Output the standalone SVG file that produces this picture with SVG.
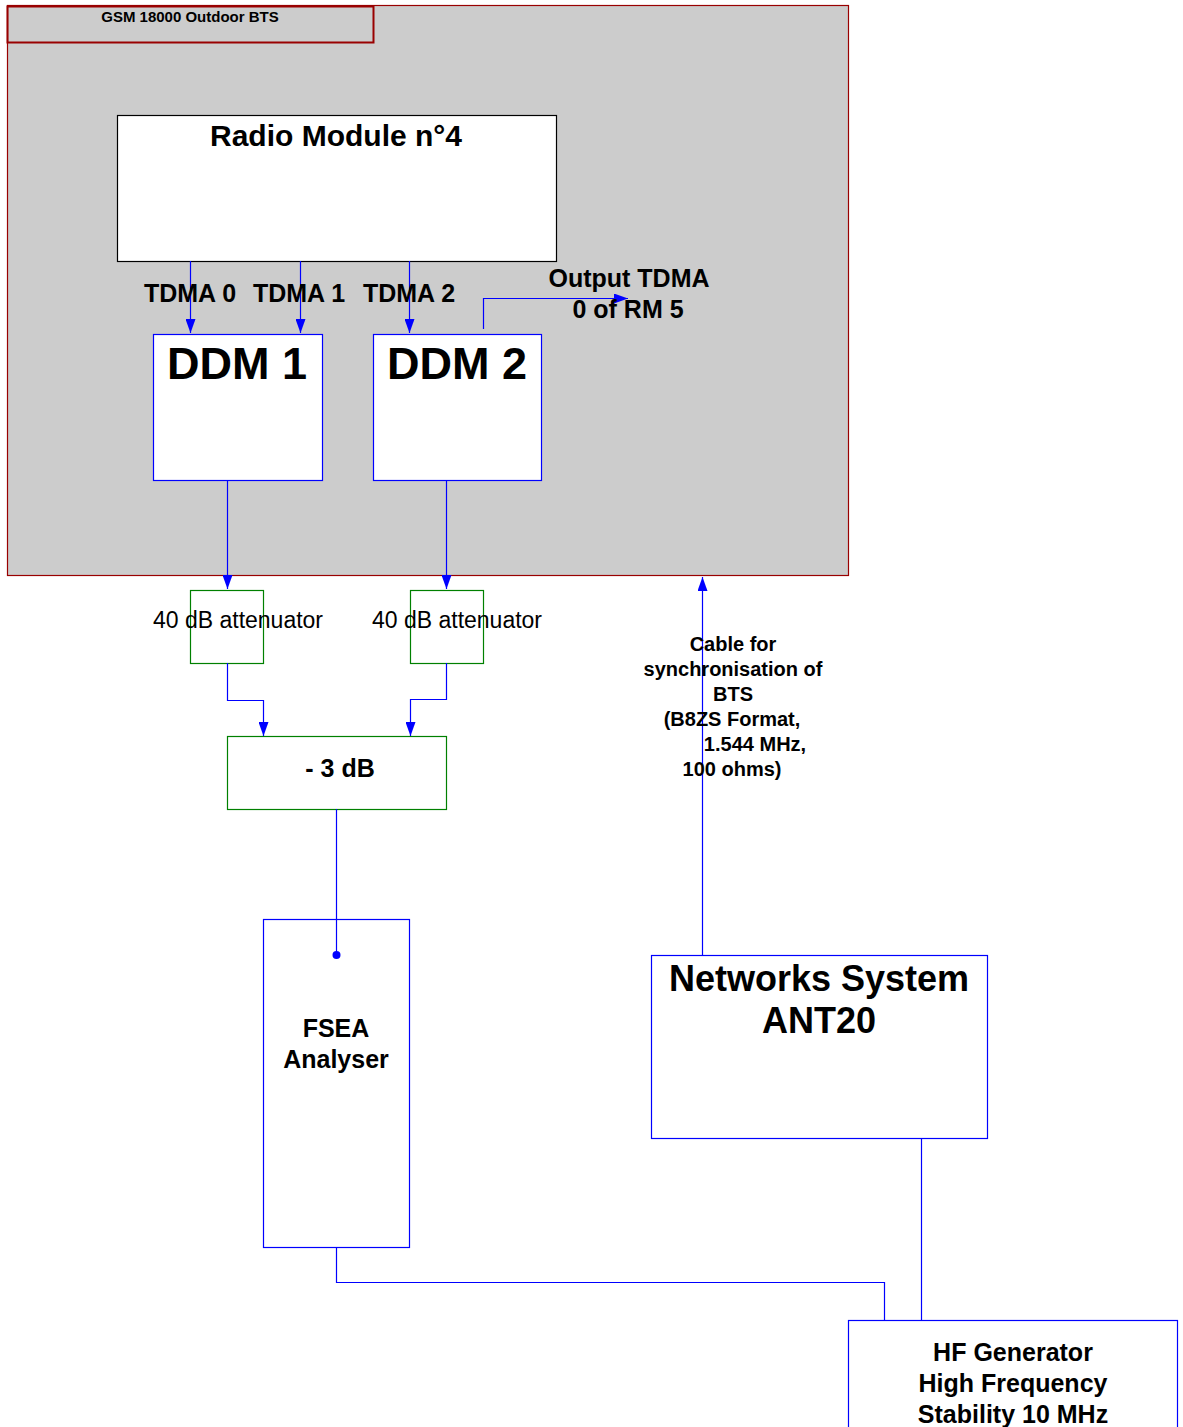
<svg xmlns="http://www.w3.org/2000/svg" width="1183" height="1427" viewBox="0 0 1183 1427">
<style>
text{font-family:"Liberation Sans",Arial,sans-serif;fill:#000;text-anchor:middle}
.b{font-weight:bold}
.blue{fill:#fff;stroke:#0000ff;stroke-width:1.2}
.green{fill:#fff;stroke:#008000;stroke-width:1.2}
.c{fill:none;stroke:#0000ff;stroke-width:1.2}
</style>
<defs>
<marker id="a" viewBox="0 0 14 10" refX="14" refY="5" markerWidth="14" markerHeight="10" markerUnits="userSpaceOnUse" orient="auto" preserveAspectRatio="none">
<path d="M0,0L14,5L0,10z" fill="#0000ff"/>
</marker>
</defs>
<g id="bts">
<rect x="7.5" y="5.5" width="841" height="570" fill="#cccccc" stroke="#990000" stroke-width="1.2"/>
<rect x="7.5" y="6.5" width="366" height="36" fill="none" stroke="#990000" stroke-width="2"/>
<text class="b" x="190" y="22" font-size="15">GSM 18000 Outdoor BTS</text>
</g>
<g id="radio-module">
<rect x="117.5" y="115.5" width="439" height="146" fill="#fff" stroke="#000" stroke-width="1.2"/>
<text class="b" x="336" y="146" font-size="30">Radio Module n°4</text>
</g>
<g id="ddm1">
<rect class="blue" x="153.5" y="334.5" width="169" height="146"/>
<text class="b" x="237" y="379" font-size="45">DDM 1</text>
</g>
<g id="ddm2">
<rect class="blue" x="373.5" y="334.5" width="168" height="146"/>
<text class="b" x="457" y="379" font-size="45">DDM 2</text>
</g>
<g id="att1">
<rect class="green" x="190.5" y="590.5" width="73" height="73"/>
</g>
<g id="att2">
<rect class="green" x="410.5" y="590.5" width="73" height="73"/>
</g>
<g id="combiner">
<rect class="green" x="227.5" y="736.5" width="219" height="73"/>
<text class="b" x="340" y="777" font-size="25">- 3 dB</text>
</g>
<g id="fsea">
<rect class="blue" x="263.5" y="919.5" width="146" height="328"/>
<text class="b" x="336" y="1037" font-size="25">FSEA</text>
<text class="b" x="336" y="1068" font-size="25">Analyser</text>
</g>
<g id="ant20">
<rect class="blue" x="651.5" y="955.5" width="336" height="183"/>
<text class="b" x="819" y="991" font-size="36">Networks System</text>
<text class="b" x="819" y="1033" font-size="36">ANT20</text>
</g>
<g id="hf-generator">
<rect class="blue" x="848.5" y="1320.5" width="329" height="120"/>
<text class="b" x="1013" y="1361" font-size="25">HF Generator</text>
<text class="b" x="1013" y="1392" font-size="25">High Frequency</text>
<text class="b" x="1013" y="1423" font-size="25">Stability 10 MHz</text>
</g>
<g id="connectors">
<path class="c" d="M190.5,261V333" marker-end="url(#a)"/>
<path class="c" d="M300.5,261V333" marker-end="url(#a)"/>
<path class="c" d="M409.5,261V333" marker-end="url(#a)"/>
<path class="c" d="M483.5,329V298.5H628" marker-end="url(#a)"/>
<path class="c" d="M227.5,480V589" marker-end="url(#a)"/>
<path class="c" d="M446.5,480V589" marker-end="url(#a)"/>
<path class="c" d="M227.5,663V700.5H263.5V736" marker-end="url(#a)"/>
<path class="c" d="M446.5,663V699.5H410.5V736" marker-end="url(#a)"/>
<path class="c" d="M336.5,809V955"/>
<circle cx="336.5" cy="955" r="4" fill="#0000ff"/>
<path class="c" d="M702.5,955V577" marker-end="url(#a)"/>
<path class="c" d="M921.5,1138V1320"/>
<path class="c" d="M336.5,1247V1282.5H884.5V1320"/>
</g>
<g id="labels">
<text class="b" x="190" y="302" font-size="25">TDMA 0</text>
<text class="b" x="299" y="302" font-size="25">TDMA 1</text>
<text class="b" x="409" y="302" font-size="25">TDMA 2</text>
<text class="b" x="629" y="287" font-size="25">Output TDMA</text>
<text class="b" x="628" y="318" font-size="25">0 of RM 5</text>
<text x="238" y="628" font-size="23">40 dB attenuator</text>
<text x="457" y="628" font-size="23">40 dB attenuator</text>
<text class="b" x="733" y="651" font-size="20">Cable for</text>
<text class="b" x="733" y="676" font-size="20">synchronisation of</text>
<text class="b" x="733" y="701" font-size="20">BTS</text>
<text class="b" x="732" y="726" font-size="20">(B8ZS Format,</text>
<text class="b" x="755" y="751" font-size="20">1.544 MHz,</text>
<text class="b" x="732" y="776" font-size="20">100 ohms)</text>
</g>
</svg>
